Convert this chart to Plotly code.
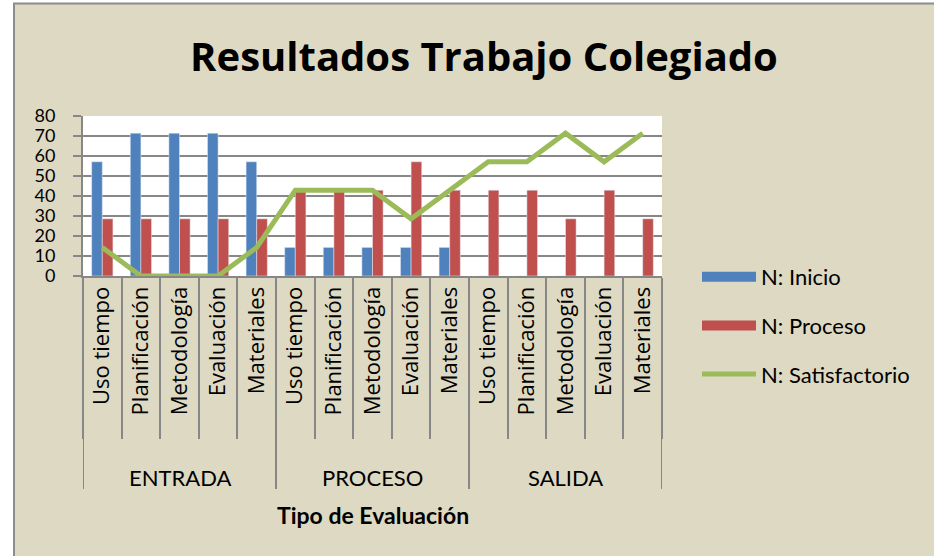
import plotly.graph_objects as go

groups = ["ENTRADA", "PROCESO", "SALIDA"]
items = ["Uso tiempo", "Planificación", "Metodología", "Evaluación", "Materiales"]
inicio = [57.1, 71.4, 71.4, 71.4, 57.1, 14.3, 14.3, 14.3, 14.3, 14.3, 0, 0, 0, 0, 0]
proceso = [28.6, 28.6, 28.6, 28.6, 28.6, 42.9, 42.9, 42.9, 57.1, 42.9, 42.9, 42.9, 28.6, 42.9, 28.6]
satisf = [14.3, 0, 0, 0, 14.3, 42.9, 42.9, 42.9, 28.6, 42.9, 57.1, 57.1, 71.4, 57.1, 71.4]
y_ticks = [0, 10, 20, 30, 40, 50, 60, 70, 80]

labels = [it for g in groups for it in items]
xs = list(range(len(labels)))
n_items = len(items)

FONT = "Lato, Open Sans, sans-serif"
FONT2 = "Open Sans, sans-serif"
BG = "#DDD9C3"
GRID = "#878787"
C_INI, C_PRO, C_SAT = "#4F81BD", "#C0504D", "#9BBB59"

W, H = 934, 556
L, R, T, B = 83, 934 - 662, 116, 556 - 276
pw, ph = W - L - R, H - T - B

def px_y(py):
    return (H - B - py) / ph

def px_x(px):
    return (px - L) / pw

fig = go.Figure()
fig.add_trace(go.Bar(x=xs, y=inicio, name="N: Inicio", marker_color=C_INI, showlegend=False))
fig.add_trace(go.Bar(x=xs, y=proceso, name="N: Proceso", marker_color=C_PRO, showlegend=False))
fig.add_trace(go.Scatter(x=xs, y=satisf, name="N: Satisfactorio", mode="lines",
                         line=dict(color=C_SAT, width=5), showlegend=False))
# legend entries (no data)
fig.add_trace(go.Scatter(x=[None], y=[None], name="N: Inicio", mode="lines",
                         line=dict(color=C_INI, width=14), legendgroup="a"))
fig.add_trace(go.Scatter(x=[None], y=[None], name="N: Proceso", mode="lines",
                         line=dict(color=C_PRO, width=14), legendgroup="b"))
fig.add_trace(go.Scatter(x=[None], y=[None], name="N: Satisfactorio", mode="lines",
                         line=dict(color=C_SAT, width=5), legendgroup="c"))

shapes = []
shapes.append(dict(type="rect", xref="paper", yref="paper", x0=px_x(-5), x1=px_x(13),
                   y0=px_y(-5), y1=px_y(H + 5), fillcolor="white", line_width=0, layer="below"))
shapes.append(dict(type="rect", xref="paper", yref="paper", x0=px_x(-5), x1=px_x(W + 5),
                   y0=px_y(3), y1=px_y(-5), fillcolor="white", line_width=0, layer="below"))
shapes.append(dict(type="line", xref="paper", yref="paper", x0=px_x(14), x1=px_x(14),
                   y0=px_y(3), y1=px_y(H + 5), line=dict(color="#8C8C8C", width=2)))
shapes.append(dict(type="line", xref="paper", yref="paper", x0=px_x(13), x1=px_x(W + 5),
                   y0=px_y(3.5), y1=px_y(3.5), line=dict(color="#8C8C8C", width=2)))
for gi in range(len(groups) + 1):
    xv = gi * n_items - 0.5
    shapes.append(dict(type="line", xref="x", yref="paper", x0=xv, x1=xv,
                       y0=0, y1=px_y(489), line=dict(color=GRID, width=2)))

annotations = []
for gi, g in enumerate(groups):
    annotations.append(dict(text=g, xref="x", yref="paper", x=gi * n_items + (n_items - 1) / 2,
                            y=px_y(477), showarrow=False, yanchor="middle",
                            font=dict(size=22, color="black", family=FONT)))
annotations.append(dict(text="<b>Tipo de Evaluación</b>", xref="paper", yref="paper", x=0.5,
                        y=px_y(515), showarrow=False, yanchor="middle",
                        font=dict(size=23, color="black", family=FONT)))

fig.update_layout(
    width=W, height=H,
    margin=dict(l=L, r=R, t=T, b=B, pad=0),
    paper_bgcolor=BG, plot_bgcolor="white",
    barmode="group", bargap=0.45, bargroupgap=0,
    title=dict(text="<b>Resultados Trabajo Colegiado</b>", x=484 / W, xanchor="center",
               y=1 - 57 / H, yanchor="middle", yref="container",
               font=dict(size=40, color="black", family=FONT2)),
    font=dict(family=FONT, color="black"),
    showlegend=True,
    legend=dict(x=px_x(697), y=px_y(256), xanchor="left", yanchor="top",
                bgcolor="rgba(0,0,0,0)", font=dict(size=22, color="black", family=FONT),
                tracegroupgap=17, traceorder="grouped", itemwidth=54),
    shapes=shapes, annotations=annotations,
    xaxis=dict(range=[-0.5, len(labels) - 0.5], tickmode="array", tickvals=xs, ticktext=labels,
               tickangle=-90, ticks="", showgrid=False, showline=True, linecolor=GRID,
               linewidth=2, tickfont=dict(size=22, color="black", family=FONT2),
               minor=dict(tickmode="array", tickvals=[i - 0.5 for i in range(len(labels) + 1)],
                          ticks="outside", ticklen=161, tickcolor=GRID, tickwidth=2, showgrid=False),
               fixedrange=True),
    yaxis=dict(range=[0, 80], tickmode="array", tickvals=y_ticks, showgrid=True,
               gridcolor=GRID, gridwidth=2, ticks="outside", ticklen=8, tickcolor=GRID,
               tickwidth=2, showline=True, linecolor=GRID, linewidth=2, zeroline=False,
               tickfont=dict(size=18, color="black", family=FONT), ticklabelstandoff=14,
               fixedrange=True),
)

fig.write_html("out.html", config={"displayModeBar": False},
               post_script="document.body.style.margin='0';document.body.style.padding='0';")
